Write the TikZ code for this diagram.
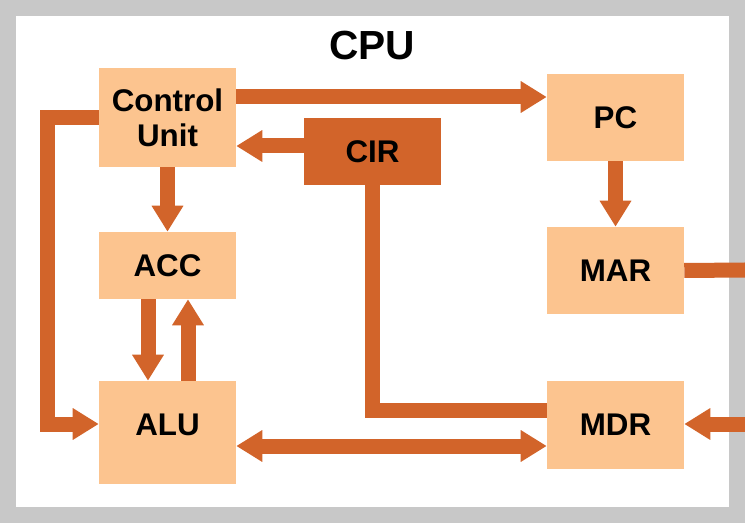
\documentclass[tikz,border=0pt]{standalone}
\usepackage{fontspec}
\setmainfont{Liberation Sans}
\usetikzlibrary{arrows.meta}
\definecolor{busorange}{RGB}{210,100,42}
\definecolor{regfill}{RGB}{252,196,143}
\definecolor{framegrey}{RGB}{200,200,200}
\begin{document}
\begin{tikzpicture}[x=0.75pt,y=0.75pt,yscale=-1,xscale=1,
    reg/.style={fill=regfill, inner sep=0pt, minimum width=102.75pt, align=center,
        font=\fontsize{23.5}{26.5}\selectfont\bfseries},
    bus/.style={draw=busorange, line width=11.25pt, line join=miter},
    flow/.style={-{Triangle[width=22.5pt,length=19.5pt]}},
    dflow/.style={{Triangle[width=22.5pt,length=19.5pt]}-{Triangle[width=22.5pt,length=19.5pt]}}]
    \useasboundingbox (0,0) rectangle (745,523);
    % frame
    \fill [framegrey] (0,0) rectangle (745,523);
    \fill [white] (16,16) rectangle (729,507);
    \node (title) at (372,46) {\fontsize{30.5}{35}\selectfont\bfseries CPU};
    % registers
    \node [reg, minimum height=74.25pt] (cu) at (167.5,117.5) {Control\\Unit};
    \node [reg, minimum height=50.25pt, fill=busorange] (cir) at (372.5,151.5) {CIR};
    \node [reg, minimum height=65.25pt] (pc) at (615.5,117.5) {PC};
    \node [reg, minimum height=65.25pt] (mar) at (615.5,270.5) {MAR};
    \node [reg, minimum height=50.25pt] (acc) at (167.5,265.5) {ACC};
    \node [reg, minimum height=77.25pt, text depth=12pt] (alu) at (167.5,432.5) {ALU};
    \node [reg, minimum height=66pt] (mdr) at (615.5,425) {MDR};
    \coordinate (busout) at (745,270);
    \coordinate (busin) at (745,424);
    % buses
    \draw [bus, flow] (cu.east |- 0,97) -- (pc.west |- 0,97);
    \draw [bus, flow] (cir.west |- 0,146) -- (cu.east |- 0,146);
    \draw [bus, flow] (cu.south) -- (acc.north);
    \draw [bus, flow] (pc.south) -- (mar.north);
    \draw [bus, flow] (acc.south -| 148,0) -- (alu.north -| 148,0);
    \draw [bus, flow] (alu.north -| 188,0) -- (acc.south -| 188,0);
    \draw [bus, flow] (cu.west |- 0,118) -| (47,424) -- (alu.west |- 0,424);
    \draw [bus, dflow] (alu.east |- 0,446) -- (mdr.west |- 0,446);
    \draw [bus] (cir.south) |- (mdr.west |- 0,410);
    \draw [bus] (mar.east) -- (busout);
    \draw [bus, flow] (busin) -- (mdr.east |- 0,424);
\end{tikzpicture}
\end{document}
